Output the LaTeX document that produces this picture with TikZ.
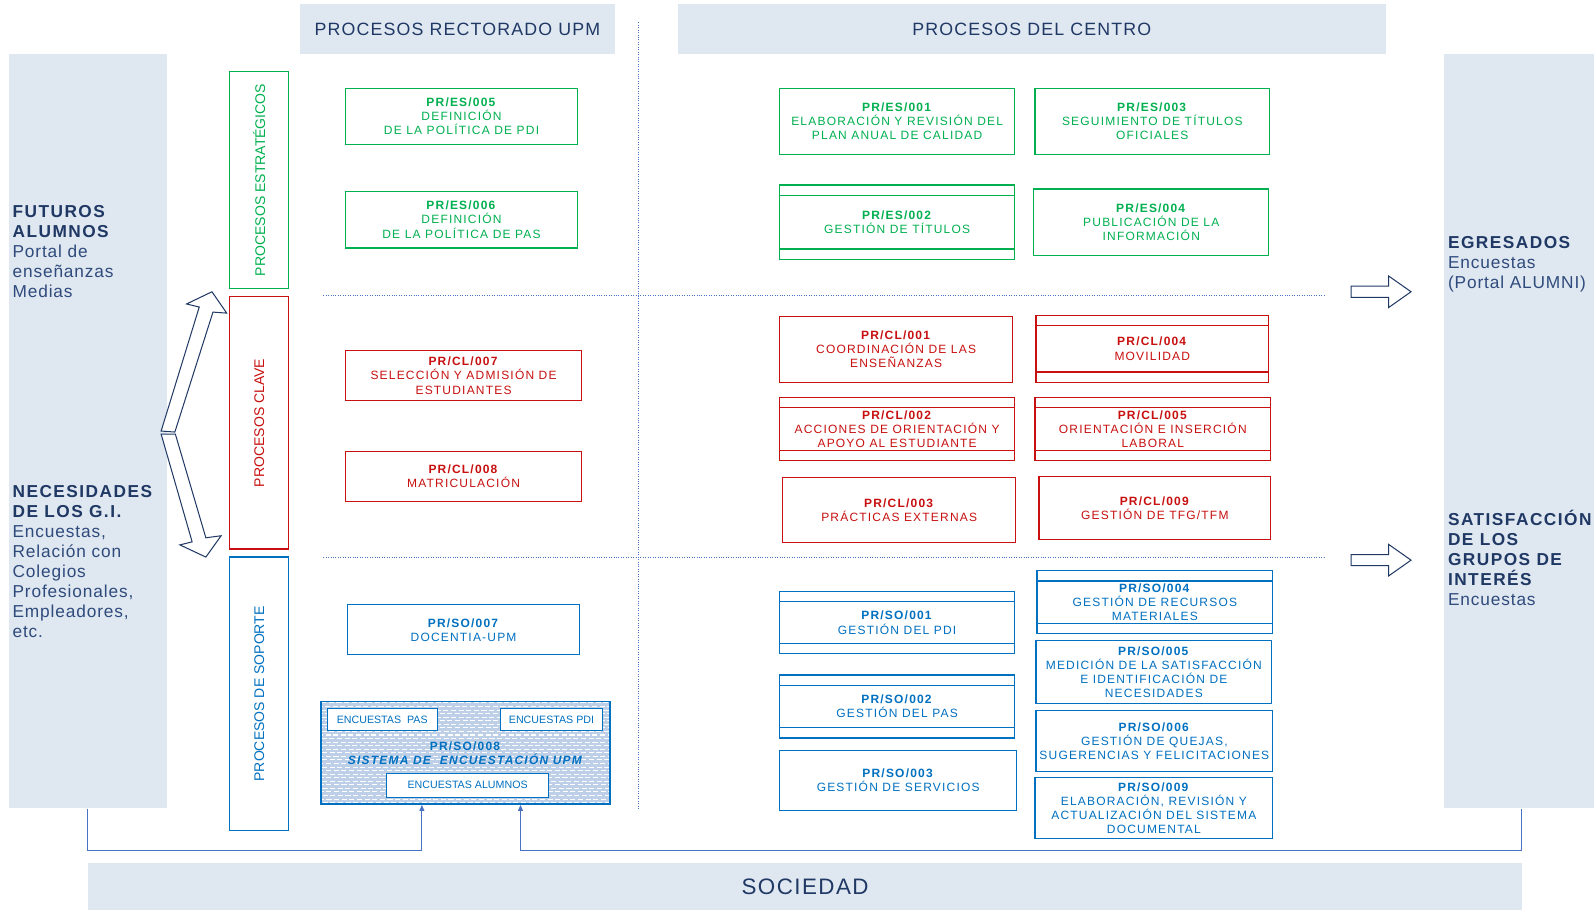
\documentclass[tikz,border=0pt]{standalone}
\usepackage{fontspec}
\setmainfont{Liberation Sans}
\newfontfamily\cajafont[LetterSpace=10]{Liberation Sans}
\newfontfamily\panelfont[LetterSpace=5]{Liberation Sans}
\newfontfamily\titfont[LetterSpace=6.5]{Liberation Sans}
\usetikzlibrary{arrows.meta,calc}
\definecolor{panelgris}{RGB}{223,231,241}
\definecolor{azuloscuro}{RGB}{31,56,100}
\definecolor{azultexto}{RGB}{47,75,124}
\definecolor{verdeproc}{RGB}{0,176,80}
\definecolor{rojoproc}{RGB}{200,16,16}
\definecolor{azulproc}{RGB}{0,112,192}
\definecolor{azullinea}{RGB}{74,114,196}
\definecolor{azulrelleno}{RGB}{190,207,232}
\newcommand\destaca[1]{\textcolor{azuloscuro}{\addfontfeature{LetterSpace=8.5}\bfseries #1}}

\begin{document}
\begin{tikzpicture}[x=1pt,y=-1pt,line width=0.8pt,>={Triangle[length=6pt,width=5pt]}]
\tikzset{
  panel/.style={fill=panelgris,inner sep=0pt},
  cabecera/.style={panel,text=azuloscuro,minimum height=49pt,font=\titfont\fontsize{17.5}{20}\selectfont},
  lado/.style={anchor=north west,align=left,inner sep=0pt,text=azultexto,font=\panelfont\fontsize{17}{19.7}\selectfont},
  caja/.style={draw=#1,fill=white,text=#1,line width=1.2pt,align=center,inner sep=0pt,
    font=\cajafont\fontsize{11.8}{13.9}\selectfont},
  cajadoble/.style={caja=#1,path picture={
    \draw[#1,line width=1.2pt] ([yshift=-10pt]path picture bounding box.north west) -- ([yshift=-10pt]path picture bounding box.north east);
    \draw[#1,line width=1.2pt] ([yshift=10pt]path picture bounding box.south west) -- ([yshift=10pt]path picture bounding box.south east);}},
  trama/.style={fill=azulrelleno,path picture={
    \foreach \k in {0,...,30}{
      \draw[white,line width=1pt,dash pattern=on 5pt off 2.5pt,dash phase=3.7*\k]
        ([yshift=-3.5*\k pt-1.5pt]path picture bounding box.north west) -- ([yshift=-3.5*\k pt-1.5pt]path picture bounding box.north east);}}},
  categoria/.style={draw=#1,text=#1,line width=1.2pt,inner sep=0pt,rotate=90,minimum height=58pt,
    font=\fontsize{13.8}{16}\selectfont},
  encuesta/.style={draw=azulproc,fill=white,text=azulproc,line width=1pt,inner sep=0pt,
    font=\fontsize{10.5}{12}\selectfont},
  divisoria/.style={azullinea,line width=0.9pt,dash pattern=on 0.8pt off 1.6pt},
  conector/.style={azullinea,line width=1pt},
  flecha/.style={draw=azuloscuro,fill=white,line width=1pt,line join=miter}
}
\useasboundingbox (0,0) rectangle (1568,895);
% ---------- fondos: cabeceras, grupos de interes y sociedad ----------
\node[cabecera,minimum width=310pt] (rect) at (450,28.5) {PROCESOS RECTORADO UPM};
\node[cabecera,minimum width=696pt] (centro) at (1015,28.5) {PROCESOS DEL CENTRO};
\node[panel,minimum width=155pt,minimum height=742pt] (izq) at (86.5,424) {};
\node[panel,minimum width=148pt,minimum height=742pt] (der) at (1494,424) {};
\node[panel,minimum width=1410pt,minimum height=46pt,text=azuloscuro,
  font=\titfont\fontsize{22}{26}\selectfont] (soc) at (792,872) {SOCIEDAD};
\node[lado] (futuros) at (12,202) {\destaca{FUTUROS}\\\destaca{ALUMNOS}\\Portal de\\enseñanzas\\Medias};
\node[lado] (necesidades) at (12,477) {\destaca{NECESIDADES}\\\destaca{DE LOS G.I.}\\Encuestas,\\Relación con\\Colegios\\Profesionales,\\Empleadores,\\etc.};
\node[lado] (egresados) at (1424,232) {\destaca{EGRESADOS}\\Encuestas\\(Portal ALUMNI)};
\node[lado] (satisf) at (1424,501) {\destaca{SATISFACCIÓN}\\\destaca{DE LOS}\\\destaca{GRUPOS DE}\\\destaca{INTERÉS}\\Encuestas};
% ---------- lineas divisorias ----------
\draw[divisoria] (628,22) -- (628,797);
\draw[divisoria] (318,291) -- (1303,291);
\draw[divisoria] (318,548) -- (1303,548);
% ---------- tipos de proceso ----------
\node[categoria=verdeproc,minimum width=214pt] (estr) at (255,177) {PROCESOS ESTRATÉGICOS};
\node[categoria=rojoproc,minimum width=248pt] (clave) at (255,416) {PROCESOS CLAVE};
\node[categoria=azulproc,minimum width=269pt] (sop) at (255,682.5) {PROCESOS DE SOPORTE};
% flecha doble de entrada
\draw[flecha] (158.5,424) -- (196,302) -- (183.5,299) -- (208.5,287) -- (223,308) -- (209.5,307) -- (172,425) -- cycle;
\draw[flecha] (158.5,427) -- (189,533) -- (177,536) -- (202.5,548) -- (217.5,527) -- (202.5,529) -- (172.5,427) -- cycle;
% flechas de salida
\draw[flecha] (1329,281.5) -- (1366,281.5) -- (1366,271.5) -- (1388,287) -- (1366,302.5) -- (1366,292.5) -- (1329,292.5) -- cycle;
\draw[flecha] (1329,545.5) -- (1366,545.5) -- (1366,535.5) -- (1388,551) -- (1366,566.5) -- (1366,556.5) -- (1329,556.5) -- cycle;
% ---------- procesos estrategicos ----------
\node[caja=verdeproc,minimum width=228pt,minimum height=55pt] (es005) at (454,114.5) {\textbf{PR/ES/005}\\DEFINICIÓN\\DE LA POLÍTICA DE PDI};
\node[caja=verdeproc,minimum width=228pt,minimum height=56pt] (es006) at (454,216) {\textbf{PR/ES/006}\\DEFINICIÓN\\DE LA POLÍTICA DE PAS};
\node[caja=verdeproc,minimum width=231pt,minimum height=65pt] (es001) at (882.5,119.5) {\textbf{PR/ES/001}\\ELABORACIÓN Y REVISIÓN DEL\\PLAN ANUAL DE CALIDAD};
\node[caja=verdeproc,minimum width=231pt,minimum height=65pt] (es003) at (1133.5,119.5) {\textbf{PR/ES/003}\\SEGUIMIENTO DE TÍTULOS\\OFICIALES};
\node[cajadoble=verdeproc,minimum width=231pt,minimum height=73pt] (es002) at (882.5,218.5) {\textbf{PR/ES/002}\\GESTIÓN DE TÍTULOS};
\node[caja=verdeproc,minimum width=231pt,minimum height=65pt] (es004) at (1132.5,218.5) {\textbf{PR/ES/004}\\PUBLICACIÓN DE LA\\INFORMACIÓN};
% ---------- procesos clave ----------
\node[caja=rojoproc,minimum width=232pt,minimum height=49pt] (cl007) at (456,369.5) {\textbf{PR/CL/007}\\SELECCIÓN Y ADMISIÓN DE\\ESTUDIANTES};
\node[caja=rojoproc,minimum width=232pt,minimum height=49pt] (cl008) at (456,468.5) {\textbf{PR/CL/008}\\MATRICULACIÓN};
\node[caja=rojoproc,minimum width=229pt,minimum height=65pt] (cl001) at (881.5,343.5) {\textbf{PR/CL/001}\\COORDINACIÓN DE LAS\\ENSEÑANZAS};
\node[cajadoble=rojoproc,minimum width=229pt,minimum height=66pt] (cl004) at (1133.5,343) {\textbf{PR/CL/004}\\MOVILIDAD};
\node[cajadoble=rojoproc,minimum width=231pt,minimum height=62pt] (cl002) at (882.5,422) {\textbf{PR/CL/002}\\ACCIONES DE ORIENTACIÓN Y\\APOYO AL ESTUDIANTE};
\node[cajadoble=rojoproc,minimum width=232pt,minimum height=62pt] (cl005) at (1134,422) {\textbf{PR/CL/005}\\ORIENTACIÓN E INSERCIÓN\\LABORAL};
\node[caja=rojoproc,minimum width=229pt,minimum height=64pt] (cl003) at (884.5,502) {\textbf{PR/CL/003}\\PRÁCTICAS EXTERNAS};
\node[caja=rojoproc,minimum width=228pt,minimum height=62pt] (cl009) at (1136,500) {\textbf{PR/CL/009}\\GESTIÓN DE TFG/TFM};
% ---------- procesos de soporte ----------
\node[caja=azulproc,minimum width=228pt,minimum height=49pt] (so007) at (456,619.5) {\textbf{PR/SO/007}\\DOCENTIA-UPM};
\node[caja=azulproc,trama,line width=1.5pt,minimum width=284pt,minimum height=101pt] (so008) at (458,740.5) {\textbf{PR/SO/008}\\\textbf{\textit{SISTEMA DE\ \ ENCUESTACIÓN UPM}}};
\node[encuesta,minimum width=108pt,minimum height=22pt] (pas) at (376,708) {ENCUESTAS\ \ PAS};
\node[encuesta,minimum width=101pt,minimum height=22pt] (pdi) at (542.5,708) {ENCUESTAS PDI};
\node[encuesta,minimum width=160pt,minimum height=23pt] (alumnos) at (460,772.5) {ENCUESTAS ALUMNOS};
\node[cajadoble=azulproc,minimum width=231pt,minimum height=61pt] (so001) at (882.5,612.5) {\textbf{PR/SO/001}\\GESTIÓN DEL PDI};
\node[cajadoble=azulproc,minimum width=231pt,minimum height=62pt] (so002) at (882.5,695) {\textbf{PR/SO/002}\\GESTIÓN DEL PAS};
\node[caja=azulproc,minimum width=233pt,minimum height=59pt] (so003) at (883.5,767.5) {\textbf{PR/SO/003}\\GESTIÓN DE SERVICIOS};
\node[cajadoble=azulproc,minimum width=232pt,minimum height=62pt] (so004) at (1136,592.5) {\textbf{PR/SO/004}\\GESTIÓN DE RECURSOS\\MATERIALES};
\node[caja=azulproc,minimum width=232pt,minimum height=62pt] (so005) at (1135,661) {\textbf{PR/SO/005}\\MEDICIÓN DE LA SATISFACCIÓN\\E IDENTIFICACIÓN DE\\NECESIDADES};
\node[caja=azulproc,minimum width=233pt,minimum height=60pt] (so006) at (1135.5,729) {\textbf{PR/SO/006}\\GESTIÓN DE QUEJAS,\\SUGERENCIAS Y FELICITACIONES};
\node[caja=azulproc,minimum width=234pt,minimum height=60pt] (so009) at (1135,795) {\textbf{PR/SO/009}\\ELABORACIÓN, REVISIÓN Y\\ACTUALIZACIÓN DEL SISTEMA\\DOCUMENTAL};
% ---------- retorno de encuestas ----------
\draw[conector,->] (izq.south) -- ++(0,41) -| ([xshift=-43pt]so008.south);
\draw[conector,->] ([xshift=3pt]der.south) -- ++(0,41) -| ([xshift=54pt]so008.south);
\end{tikzpicture}
\end{document}
